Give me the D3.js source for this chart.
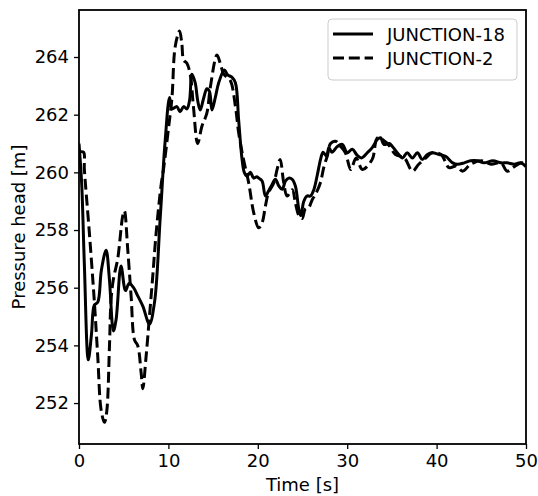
<!DOCTYPE html>
<html>
<head>
<meta charset="utf-8">
<script src="https://cdn.jsdelivr.net/npm/d3@7"></script>
<style>
  body { margin: 0; background: #fff; }
  text { font-family: "DejaVu Sans", sans-serif; fill: #000; }
</style>
</head>
<body>
<svg id="chart"></svg>
<script>
// данные: [время, напор]
const junction18 = [
  [0, 261.0], [0.3, 259.6], [0.6, 256.8], [1.04, 253.5], [1.4, 254.4], [1.72, 255.4], [2.1, 255.5],
  [2.5, 256.6], [3.03, 257.3], [3.4, 256.3], [3.85, 254.5], [4.15, 254.9], [4.7, 256.75],
  [5.2, 255.9], [5.6, 256.15], [6.1, 256.0], [6.6, 255.7], [7.14, 255.36], [7.88, 254.74],
  [8.45, 255.5], [9.08, 258.4], [9.64, 261.1], [10.13, 262.6], [10.39, 262.2], [10.95, 262.28],
  [11.3, 262.1], [11.7, 262.28], [12.07, 262.2], [12.37, 262.5], [12.63, 263.4], [13.0, 263.1],
  [13.27, 262.5], [13.56, 262.16], [13.94, 262.57], [14.3, 262.9], [14.6, 262.8], [14.87, 262.16],
  [15.25, 262.6], [15.62, 263.1], [16.26, 263.55], [16.63, 263.38], [17.1, 263.3], [17.5, 263.1],
  [17.86, 261.8], [18.24, 260.45], [18.5, 259.99], [18.8, 259.87], [19.17, 260.0], [19.54, 259.8],
  [19.9, 259.85], [20.1, 259.8], [20.48, 259.7], [20.85, 259.18], [21.2, 259.35], [21.6, 259.58],
  [21.97, 259.76], [22.35, 259.53], [22.72, 259.41], [23.1, 259.7], [23.46, 259.8], [23.85, 259.76],
  [24.2, 259.53], [24.6, 258.7], [24.8, 258.5], [25.15, 259.0], [25.5, 259.18], [25.9, 259.18],
  [26.27, 259.4], [26.65, 259.9], [27.02, 260.45], [27.3, 260.7], [27.7, 260.56], [27.95, 260.86],
  [28.3, 260.7], [28.9, 260.9], [29.45, 260.97], [30.0, 260.68], [30.57, 260.8], [31.1, 260.6],
  [31.6, 260.5], [32.25, 260.68], [32.8, 260.86], [33.4, 261.15], [33.74, 261.2], [34.1, 260.97],
  [34.7, 261.0], [35.05, 260.9], [35.6, 260.68], [36.2, 260.5], [36.7, 260.68], [37.3, 260.5],
  [37.85, 260.68], [38.4, 260.45], [38.97, 260.62], [39.5, 260.68], [40.3, 260.62], [41.0, 260.56],
  [41.8, 260.33], [42.34, 260.28], [43.1, 260.33], [43.8, 260.4], [44.6, 260.4], [45.3, 260.33],
  [46.3, 260.4], [47.2, 260.33], [47.9, 260.33], [48.7, 260.28], [49.4, 260.33], [50, 260.2]
];

const junction2 = [
  [0, 260.7], [0.5, 260.7], [0.6, 260.1], [1.16, 257.9], [1.72, 255.5], [2.1, 253.6], [2.47, 251.77],
  [2.84, 251.33], [3.1, 251.7], [3.4, 253.9], [3.59, 255.6], [3.85, 256.3], [4.33, 257.0],
  [4.9, 258.5], [5.08, 258.66], [5.45, 257.33], [5.83, 255.7], [6.2, 254.2], [6.58, 253.98],
  [6.95, 253.05], [7.14, 252.5], [7.5, 253.6], [7.88, 255.0], [8.25, 256.4], [8.63, 257.9],
  [9.2, 259.6], [9.45, 260.1], [10.0, 261.5], [10.4, 262.6], [10.76, 264.36], [11.25, 264.9],
  [11.5, 264.47], [11.7, 263.9], [12.07, 263.78], [12.44, 263.4], [12.8, 262.28], [13.27, 261.0],
  [13.75, 261.6], [14.3, 262.05], [14.7, 262.97], [15.43, 264.07], [15.8, 263.78], [16.2, 263.4],
  [16.9, 263.2], [17.5, 262.28], [17.86, 261.37], [18.4, 260.45], [18.98, 259.64], [19.54, 258.6],
  [20.1, 258.08], [20.48, 258.25], [20.85, 258.83], [21.2, 259.3], [21.8, 259.64], [22.16, 260.1],
  [22.5, 260.45], [22.9, 259.64], [23.28, 259.18], [23.85, 259.4], [24.2, 258.95], [24.6, 258.5],
  [24.96, 258.4], [25.3, 258.72], [25.7, 258.78], [26.1, 259.06], [26.46, 259.24], [27.0, 259.64],
  [27.4, 260.2], [27.77, 260.56], [28.14, 261.0], [28.7, 261.08], [29.26, 260.9], [29.8, 260.68],
  [30.4, 260.1], [31.0, 260.5], [31.7, 260.1], [32.8, 260.45], [33.4, 261.2], [34.5, 261.0],
  [35.4, 260.62], [36.4, 260.5], [37.3, 260.04], [38.0, 260.28], [38.8, 260.5], [39.5, 260.68],
  [40.5, 260.62], [41.4, 260.16], [42.2, 260.22], [42.9, 260.04], [43.8, 260.28], [45.0, 260.4],
  [46.1, 260.28], [47.2, 260.33], [47.9, 260.04], [48.7, 260.2], [49.6, 260.33], [50, 260.2]
];

const seriesNames = ["JUNCTION-18", "JUNCTION-2"];
const xTicks = [0, 10, 20, 30, 40, 50];
const yTicks = [252, 254, 256, 258, 260, 262, 264];

const svgWidth = 538, svgHeight = 496;
const margin = { top: 10, right: 12, bottom: 52, left: 79 };
const width = svgWidth - margin.left - margin.right;
const height = svgHeight - margin.top - margin.bottom;
const lw = 3, dash = "11,4.8";

let svg = d3.select("#chart").attr("width", svgWidth).attr("height", svgHeight);
let g = svg.append("g").attr("transform", `translate(${margin.left},${margin.top})`);

let x = d3.scaleLinear().domain([0, 50]).range([0, width]);
let y = d3.scaleLinear().domain([250.58, 265.63]).range([height, 0]);

let line = d3.line()
  .x(function (d) { return x(d[0]); })
  .y(function (d) { return y(d[1]); })
  .curve(d3.curveCatmullRom.alpha(0.5));

g.append("defs").append("clipPath").attr("id", "clip")
  .append("rect").attr("width", width).attr("height", height);

let plot = g.append("g").attr("clip-path", "url(#clip)");

plot.append("path").datum(junction18)
  .attr("d", line).attr("fill", "none").attr("stroke", "#000")
  .attr("stroke-width", lw).attr("stroke-linejoin", "round");

plot.append("path").datum(junction2)
  .attr("d", line).attr("fill", "none").attr("stroke", "#000")
  .attr("stroke-width", lw).attr("stroke-dasharray", dash);

// оси
let xAxis = g.append("g").attr("transform", `translate(0,${height})`)
  .call(d3.axisBottom(x).tickValues(xTicks).tickSize(5).tickPadding(5));
let yAxis = g.append("g")
  .call(d3.axisLeft(y).tickValues(yTicks).tickSize(5).tickPadding(5));

[xAxis, yAxis].forEach(function (a) {
  a.select(".domain").remove();
  a.selectAll(".tick line").attr("stroke", "#000").attr("stroke-width", 1.3);
  a.selectAll(".tick text").style("font-size", "18px").style("font-family", "DejaVu Sans");
});

g.append("rect").attr("width", width).attr("height", height)
  .attr("fill", "none").attr("stroke", "#000").attr("stroke-width", 1.8);

svg.append("text").attr("x", margin.left + width / 2).attr("y", 491)
  .attr("text-anchor", "middle").style("font-size", "18px").text("Time [s]");

svg.append("text")
  .attr("transform", `translate(25,${margin.top + height / 2}) rotate(-90)`)
  .attr("text-anchor", "middle").style("font-size", "18px").text("Pressure head [m]");

// легенда
let legend = svg.append("g").attr("transform", "translate(328,19)");
legend.append("rect").attr("width", 189).attr("height", 61).attr("rx", 4)
  .attr("fill", "#fff").attr("fill-opacity", 0.8).attr("stroke", "#ccc").attr("stroke-width", 1);

seriesNames.forEach(function (name, i) {
  let yy = 15 + i * 24;
  legend.append("line").attr("x1", 5).attr("x2", 45).attr("y1", yy).attr("y2", yy)
    .attr("stroke", "#000").attr("stroke-width", lw)
    .attr("stroke-dasharray", i === 1 ? dash : null);
  legend.append("text").attr("x", 59).attr("y", yy + 6.5).style("font-size", "18px").text(name);
});
</script>
</body>
</html>
